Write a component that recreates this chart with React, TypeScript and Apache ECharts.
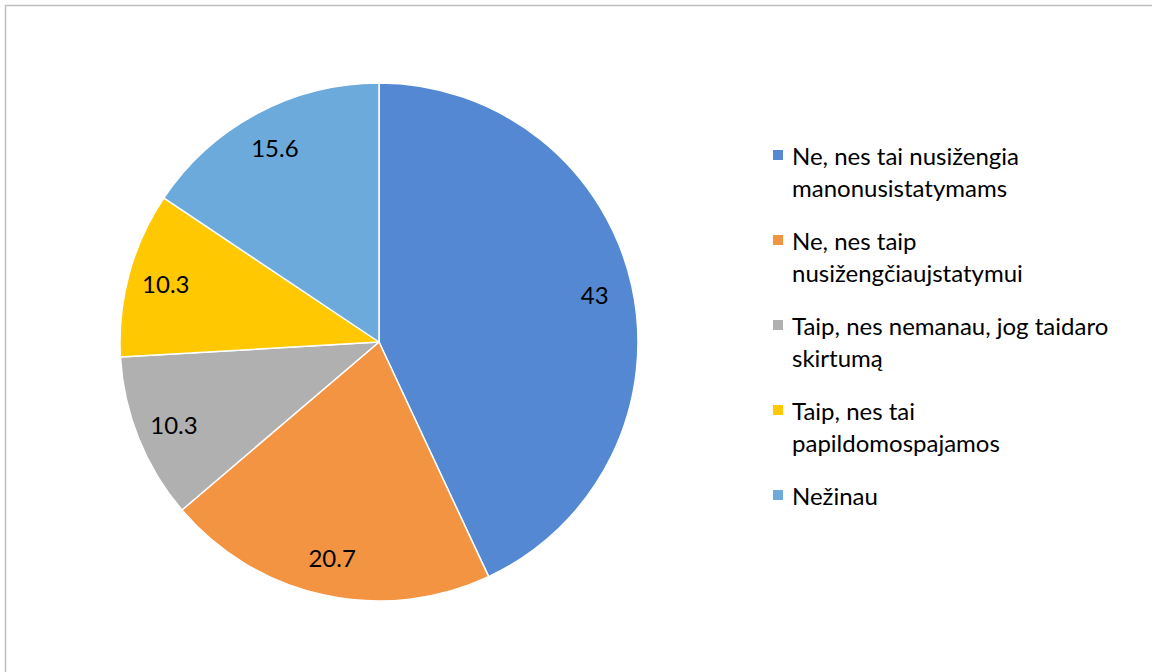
import React, { useEffect, useRef } from "react";
import * as echarts from "echarts";

const categories: string[] = [
  "Ne, nes tai nusižengia\nmanonusistatymams",
  "Ne, nes taip\nnusižengčiaujstatymui",
  "Taip, nes nemanau, jog taidaro\nskirtumą",
  "Taip, nes tai\npapildomospajamos",
  "Nežinau",
];
const values: number[] = [43, 20.7, 10.3, 10.3, 15.6];
const colors: string[] = ["#5588D3", "#F39443", "#B0B0B0", "#FFC800", "#6BAADB"];

const FONT = "Lato, 'Noto Sans', sans-serif";

export default function App() {
  const ref = useRef<HTMLDivElement>(null);
  useEffect(() => {
    if (!ref.current) return;
    const chart = echarts.init(ref.current, undefined, { renderer: "svg" });
    const data = categories.map((name, i) => ({
      name,
      value: values[i],
      itemStyle: { color: colors[i] },
    }));
    const rich: Record<string, any> = {
      t: { fontSize: 24, lineHeight: 32, color: "#000", fontFamily: FONT },
      g: { width: 19, height: 10 },
    };
    colors.forEach((c, i) => {
      rich["i" + i] = { width: 10, height: 10, backgroundColor: c, padding: 0 };
      rich["s" + i] = { width: 9, height: 10 };
    });
    chart.setOption({
      animation: false,
      backgroundColor: "#ffffff",
      graphic: [
        {
          type: "rect",
          shape: { x: 5.5, y: 5.5, width: 1200, height: 700 },
          style: { fill: "none", stroke: "#BFBFBF", lineWidth: 1.5 },
          silent: true,
          z: -10,
        },
      ],
      legend: {
        orient: "vertical",
        left: 768,
        top: 139,
        padding: 0,
        itemGap: 21,
        itemWidth: 0,
        itemHeight: 0,
        icon: "none",
        selectedMode: false,
        data: categories,
        textStyle: { fontSize: 24, lineHeight: 32, fontFamily: FONT, color: "#000", rich },
        formatter: (name: string) => {
          const idx = categories.indexOf(name);
          const lines = name.split("\n");
          let s = `{i${idx}|}{s${idx}|}{t|${lines[0]}}`;
          for (let k = 1; k < lines.length; k++) s += `\n{g|}{t|${lines[k]}}`;
          return s;
        },
      },
      series: [
        {
          type: "pie",
          center: [379, 342],
          radius: [0, 259],
          startAngle: 90,
          clockwise: true,
          label: { show: false },
          labelLine: { show: false },
          itemStyle: { borderColor: "#ffffff", borderWidth: 1.5 },
          emphasis: { disabled: true },
          data,
        },
        {
          type: "pie",
          center: [379, 342],
          radius: [177, 259],
          startAngle: 90,
          clockwise: true,
          silent: true,
          legendHoverLink: false,
          itemStyle: { color: "rgba(0,0,0,0)" },
          label: {
            show: true,
            position: "inside",
            formatter: "{c}",
            fontSize: 24,
            fontFamily: FONT,
            color: "#000",
          },
          labelLine: { show: false },
          emphasis: { disabled: true },
          data: categories.map((name, i) => ({ name, value: values[i] })),
        },
      ],
    });
    return () => chart.dispose();
  }, []);
  return (
    <div
      ref={ref}
      style={{ position: "fixed", left: 0, top: 0, width: 1152, height: 672 }}
    />
  );
}
